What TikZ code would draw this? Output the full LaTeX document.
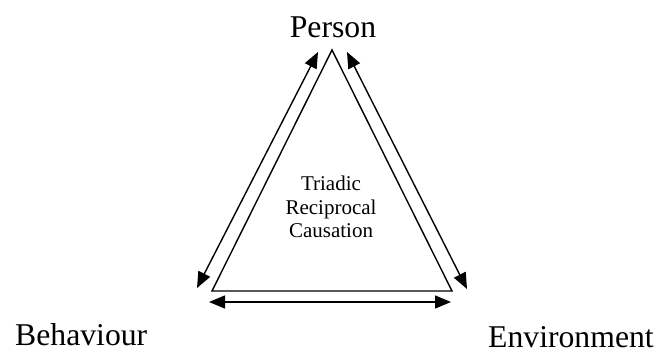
\documentclass[tikz,border=0pt]{standalone}
\usepackage{fontspec}
\setmainfont{Liberation Serif}
\usetikzlibrary{arrows.meta, positioning, calc}

\tikzset{
  side/.style={line width=1.4pt, line join=miter},
  reciprocal/.style={line width=1.4pt, {Triangle[length=16pt,width=13pt]}-{Triangle[length=16pt,width=13pt]}},
  corner/.style={font=\fontsize{31.7}{38}\selectfont, inner sep=0pt}
}

\begin{document}
\begin{tikzpicture}[x=1pt, y=-1pt]
  \useasboundingbox (0,0) rectangle (657,354);
  % triangle
  \coordinate (P) at (332,50);
  \coordinate (B) at (212,291);
  \coordinate (E) at (452,291);
  \draw[side] (P) -- (B) -- (E) -- cycle;
  % arrow ends
  \coordinate (pb1) at (318,52);  \coordinate (pb2) at (197,288);
  \coordinate (pe1) at (347,52);  \coordinate (pe2) at (467,289);
  \coordinate (be1) at (209,302); \coordinate (be2) at (451,302);
  \draw[reciprocal] (pb1) -- (pb2);
  \draw[reciprocal] (pe1) -- (pe2);
  \draw[reciprocal] (be1) -- (be2);
  % labels
  \node[corner, anchor=base] (person) at (333,37) {Person};
  \node[corner, anchor=base west] (behaviour) at (15,345) {Behaviour};
  \node[corner, anchor=base west] (environment) at (488,347) {Environment};
  \node[font=\fontsize{21}{23.5}\selectfont, align=center, inner sep=0pt] (trc) at (331,207) {Triadic\\Reciprocal\\Causation};
\end{tikzpicture}
\end{document}
